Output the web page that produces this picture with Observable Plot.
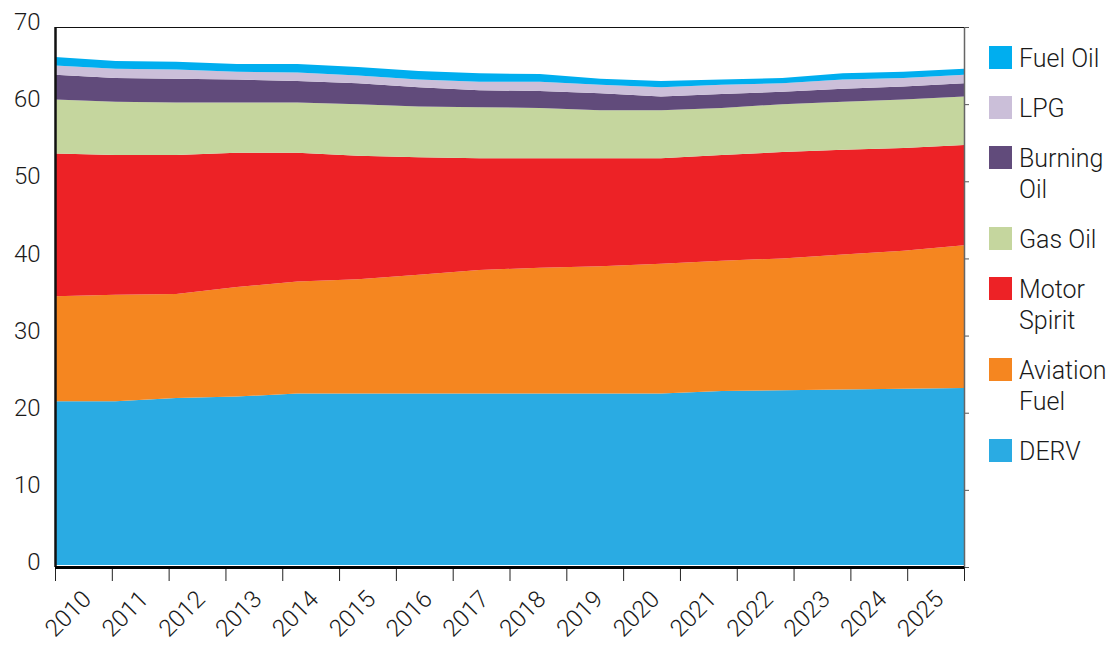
<!DOCTYPE html>
<html><head><meta charset="utf-8">
<script src="https://cdn.jsdelivr.net/npm/d3@7"></script>
<script src="https://cdn.jsdelivr.net/npm/@observablehq/plot@0.6"></script>
<style>
html,body{margin:0;padding:0;background:#fff;overflow:hidden}
#wrap{position:relative;width:1115px;height:646px;font-family:Roboto,"Liberation Sans",sans-serif}
#legend{position:absolute;left:989px;top:43px}
.item{display:flex;align-items:flex-start;margin-bottom:19px}
.sw{width:23px;height:23px;margin-top:3px;margin-right:7px;flex:none}
.lab{font-size:25px;line-height:31px;color:#1a1a1a;font-weight:300;max-width:96px}
</style></head><body><div id="wrap"><div id="chart"></div><div id="legend"></div></div>
<script>
const years = [2010,2011,2012,2013,2014,2015,2016,2017,2018,2019,2020,2021,2022,2023,2024,2025];
const derv       = [21.5,21.5,21.9,22.1,22.5,22.5,22.5,22.5,22.5,22.5,22.5,22.8,22.9,23.0,23.1,23.2];
const aviation   = [13.6,13.8,13.5,14.2,14.5,14.8,15.4,16.0,16.3,16.5,16.8,16.9,17.1,17.5,17.9,18.5];
const motor      = [18.5,18.1,18.0,17.4,16.7,16.0,15.2,14.5,14.2,14.0,13.7,13.7,13.8,13.6,13.3,13.0];
const gasOil     = [7.0,6.9,6.8,6.5,6.5,6.7,6.6,6.6,6.5,6.2,6.2,6.1,6.2,6.2,6.3,6.3];
const burningOil = [3.2,3.1,3.1,3.0,2.8,2.7,2.5,2.2,2.2,2.2,1.8,1.8,1.6,1.7,1.7,1.7];
const lpg        = [1.2,1.2,1.2,1.0,1.1,1.0,1.0,1.1,1.2,1.1,1.2,1.2,1.1,1.2,1.1,1.1];
const fuelOil    = [1.1,1.0,1.0,1.0,1.1,1.1,1.1,1.1,1.0,0.8,0.8,0.7,0.7,0.8,0.8,0.8];
const series = ["DERV","Aviation Fuel","Motor Spirit","Gas Oil","Burning Oil","LPG","Fuel Oil"];
const colors = ["#2aabe3","#f58620","#ed2226","#c5d69e","#614b7b","#cbbfd9","#00aeef"];
const yTicks = [0,10,20,30,40,50,60,70];

const values = [derv, aviation, motor, gasOil, burningOil, lpg, fuelOil];
const rows = series.flatMap((s,j) => years.map((y,i) => ({year:y, fuel:s, value:values[j][i]})));
const n = years.length;
const span = years[n-1] - years[0];
const tickPos = d3.range(n+1).map(k => years[0] + k*span/n);
const catCenters = years.map((y,i) => years[0] + (i+0.5)*span/n);
const font = "Roboto, 'Liberation Sans', sans-serif";

const chart = Plot.plot({
  width:1115, height:646,
  marginLeft:55, marginRight:151, marginTop:27, marginBottom:79,
  style:{fontFamily:font, background:"white", overflow:"visible"},
  x:{domain:[years[0], years[n-1]], axis:null},
  y:{domain:[0,70], axis:null},
  color:{domain:series, range:colors},
  marks:[
    Plot.areaY(rows, {x:"year", y:"value", fill:"fuel", order:series, curve:"linear"}),
    Plot.ruleY([0], {stroke:"white", strokeWidth:1, dy:-2}),
    Plot.axisY({anchor:"left", label:null, ticks:yTicks, tickSize:0, tickPadding:15, dy:-5, fontSize:24, fontWeight:300, fill:"#1a1a1a"}),
    Plot.axisY({anchor:"right", label:null, ticks:yTicks, tickSize:4, tickFormat:() => "", stroke:"#555"}),
    Plot.axisX({label:null, ticks:tickPos, tickSize:14, tickFormat:() => "", stroke:"#222"}),
    Plot.text(years, {x:(d,i) => catCenters[i], text:d => String(d), frameAnchor:"bottom", dy:52, dx:-10, rotate:-45, textAnchor:"middle", fontSize:24, fontWeight:300, fill:"#1a1a1a"}),
    Plot.ruleX([years[0]], {stroke:"#111", strokeWidth:2.5}),
    Plot.ruleX([years[n-1]], {stroke:"#666", strokeWidth:1.5}),
    Plot.ruleY([0], {stroke:"#000", strokeWidth:3}),
    Plot.ruleY([70], {stroke:"#111", strokeWidth:1.2})
  ]
});
document.getElementById("chart").appendChild(chart);

const legend = document.getElementById("legend");
series.map((s,j) => ({s, c:colors[j]})).reverse().forEach(({s,c}) => {
  const it = document.createElement("div"); it.className = "item";
  const sw = document.createElement("div"); sw.className = "sw"; sw.style.background = c;
  const lb = document.createElement("div"); lb.className = "lab"; lb.textContent = s;
  it.appendChild(sw); it.appendChild(lb); legend.appendChild(it);
});
</script></body></html>
